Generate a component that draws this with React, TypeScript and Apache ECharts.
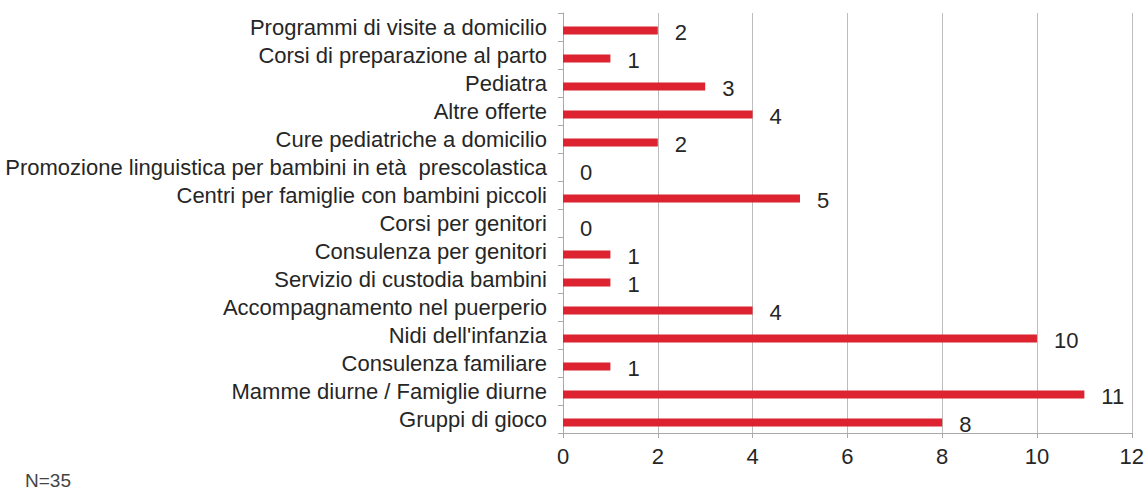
import React, { useEffect, useRef } from "react";
import * as echarts from "echarts";

const categories = [
  "Programmi di visite a domicilio",
  "Corsi di preparazione al parto",
  "Pediatra",
  "Altre offerte",
  "Cure pediatriche a domicilio",
  "Promozione linguistica per bambini in età  prescolastica",
  "Centri per famiglie con bambini piccoli",
  "Corsi per genitori",
  "Consulenza per genitori",
  "Servizio di custodia bambini",
  "Accompagnamento nel puerperio",
  "Nidi dell'infanzia",
  "Consulenza familiare",
  "Mamme diurne / Famiglie diurne",
  "Gruppi di gioco",
];
const values = [2, 1, 3, 4, 2, 0, 5, 0, 1, 1, 4, 10, 1, 11, 8];
const axisMin = 0;
const axisMax = 12;
const axisStep = 2;
const footnote = "N=35";

const FONT = "'Liberation Sans', Arial, sans-serif";

export default function App() {
  const ref = useRef<HTMLDivElement>(null);
  useEffect(() => {
    if (!ref.current) return;
    const chart = echarts.init(ref.current, null, { renderer: "svg" });
    chart.setOption({
      animation: false,
      backgroundColor: "#ffffff",
      textStyle: { fontFamily: FONT },
      grid: { left: 563, right: 14, top: 13, bottom: 57, containLabel: false },
      xAxis: {
        type: "value",
        min: axisMin,
        max: axisMax,
        interval: axisStep,
        axisLine: { show: true, lineStyle: { color: "#a9a9a9", width: 1 } },
        axisTick: { show: true, length: 5, lineStyle: { color: "#a9a9a9" } },
        axisLabel: { color: "#262626", fontSize: 22, margin: 12, fontFamily: FONT },
        splitLine: { show: true, lineStyle: { color: "#bdbdbd", width: 1 } },
      },
      yAxis: {
        type: "category",
        inverse: true,
        data: categories,
        axisLine: { show: true, lineStyle: { color: "#a9a9a9", width: 1 } },
        axisTick: { show: true, length: 5, interval: 0, lineStyle: { color: "#a9a9a9" } },
        axisLabel: {
          color: "#262626",
          fontSize: 22,
          margin: 16,
          interval: 0,
          hideOverlap: false,
          fontFamily: FONT,
        },
        splitLine: { show: false },
      },
      series: [
        {
          type: "bar",
          name: "spacer",
          data: values.map(() => null),
          barWidth: 8,
          barGap: "-12.5%",
          silent: true,
          itemStyle: { color: "transparent" },
        },
        {
          type: "bar",
          name: "value",
          data: values,
          barWidth: 8,
          barGap: "-12.5%",
          itemStyle: { color: "#dc232f" },
          label: {
            show: true,
            position: "right",
            distance: 17,
            offset: [0, 2],
            color: "#262626",
            fontSize: 22,
            fontFamily: FONT,
          },
        },
      ],
      graphic: [
        {
          type: "text",
          left: 25,
          top: 471,
          style: { text: footnote, fill: "#444", fontSize: 19, fontFamily: FONT },
        },
      ],
    });
    return () => chart.dispose();
  }, []);
  return (
    <div
      ref={ref}
      style={{ position: "fixed", left: 0, top: 0, width: 1147, height: 490 }}
    />
  );
}
